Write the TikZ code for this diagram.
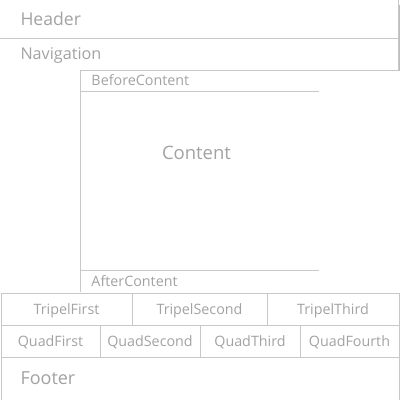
\documentclass[tikz,border=0pt]{standalone}
\usepackage{fontspec}
\setmainfont{Open Sans}
\usepackage{tikz}
\definecolor{lineg}{HTML}{C8C8C8}
\definecolor{textg}{HTML}{A2A2A2}
\definecolor{shadeg}{HTML}{BDBDBD}
\tikzset{
  lbl/.style={text=textg,inner sep=0pt},
  big/.style={lbl,font=\fontsize{18}{21}\selectfont},
  mid/.style={lbl,font=\fontsize{16.2}{19}\selectfont},
  small/.style={lbl,font=\fontsize{14.3}{17}\selectfont}
}

\begin{document}
\begin{tikzpicture}[x=1pt,y=-1pt,line width=1pt]
\useasboundingbox (0,0) rectangle (400,400);
\fill[shadeg] (398.7,5) rectangle (400,71);
\draw[lineg] (0,38.5) -- (398,38.5);
\draw[lineg] (398,0) -- (398,70.5) -- (80,70.5) -- (80,292);
\draw[lineg] (80,91.8) -- (319,91.8);
\draw[lineg] (80,270) -- (319,270);
\draw[lineg] (1,400) -- (1,293) -- (399,293) -- (399,400);
\draw[lineg] (1,325) -- (399,325);
\draw[lineg] (1,357) -- (399,357);
\draw[lineg] (132,293) -- (132,325);
\draw[lineg] (267,293) -- (267,325);
\draw[lineg] (100,325) -- (100,357);
\draw[lineg] (200,325) -- (200,357);
\draw[lineg] (300.5,325) -- (300.5,357);
\node[big,anchor=west,font=\fontsize{17.6}{21}\selectfont] (header) at (20,18.5) {Header};
\node[mid,anchor=west] (nav) at (20,55.5) {Navigation};
\node[small,anchor=west] (before) at (91,80.5) {BeforeContent};
\node[big,font=\fontsize{18.5}{22}\selectfont] (content) at (196.5,152.5) {Content};
\node[small,anchor=west] (after) at (91,281.5) {AfterContent};
\node[small] (tripel1) at (66.5,311) {TripelFirst};
\node[small] (tripel2) at (199.5,311) {TripelSecond};
\node[small] (tripel3) at (333,311) {TripelThird};
\node[small] (quad1) at (50.5,342.5) {QuadFirst};
\node[small] (quad2) at (150,342.5) {QuadSecond};
\node[small] (quad3) at (250,342.5) {QuadThird};
\node[small] (quad4) at (349.5,342.5) {QuadFourth};
\node[big,anchor=west] (footer) at (20,378) {Footer};
\end{tikzpicture}
\end{document}
